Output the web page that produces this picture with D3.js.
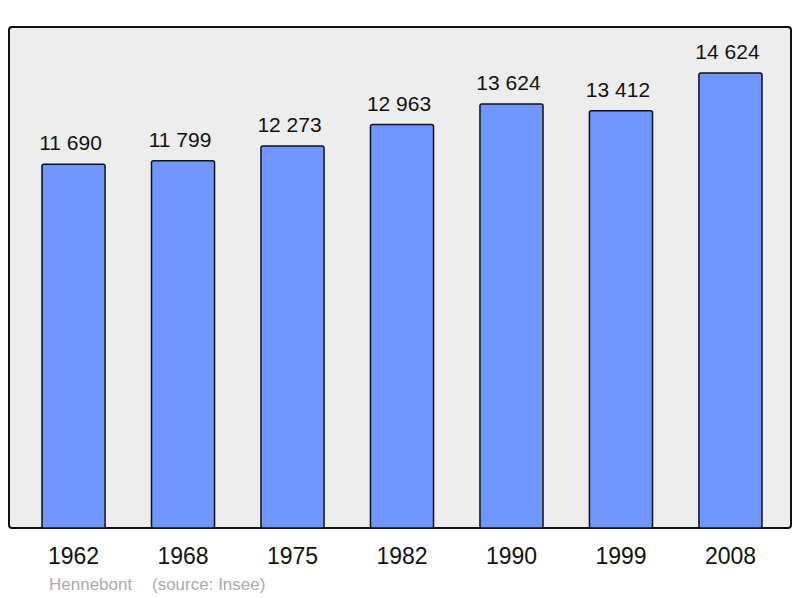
<!DOCTYPE html>
<html lang="fr">
<head>
<meta charset="UTF-8" />
<title>Hennebont population</title>
<script src="https://d3js.org/d3.v7.min.js"></script>
<style>
    body { margin: 0; background: #fff; }
    svg { display: block; font-family: "Liberation Sans", Arial, sans-serif; }
    .panel { fill: #ededed; stroke: #111; stroke-width: 2px; }
    .bar { fill: #7096ff; stroke: #111; stroke-width: 1.5px; }
    .val { font-size: 21px; fill: #111; text-anchor: middle; }
    .year { font-size: 23px; fill: #111; text-anchor: middle; }
    .foot { font-size: 17px; fill: #aaa; }
</style>
</head>
<body>
<svg width="800" height="598"></svg>
<script>
    const years = ["1962", "1968", "1975", "1982", "1990", "1999", "2008"];
    const population = [11690, 11799, 12273, 12963, 13624, 13412, 14624];
    const town = "Hennebont";
    const source = "(source: Insee)";

    const svg = d3.select("svg");
    const fmt = v => d3.format(",")(v).replace(",", " ");

    svg.append("rect").attr("class", "panel")
        .attr("x", 9).attr("y", 27).attr("width", 782).attr("height", 501).attr("rx", 3);

    const x = d3.scaleBand().domain(years).range([42, 762]).paddingInner(0.424).paddingOuter(0);
    const y = d3.scaleLinear().domain([0, 16100]).range([528, 27]);

    const g = svg.append("g");
    g.selectAll(".bar")
        .data(population)
        .join("rect")
        .attr("class", "bar")
        .attr("x", (d, i) => x(years[i]))
        .attr("y", d => y(d))
        .attr("width", x.bandwidth())
        .attr("height", d => y(0) - y(d))
        .attr("rx", 2);

    // value labels sit a touch left of the bar centre
    g.selectAll(".val")
        .data(population)
        .join("text")
        .attr("class", "val")
        .attr("x", (d, i) => x(years[i]) + x.bandwidth() / 2 - 3)
        .attr("y", d => y(d) - 14)
        .text(d => fmt(d));

    svg.selectAll(".year")
        .data(years)
        .join("text")
        .attr("class", "year")
        .attr("x", d => x(d) + x.bandwidth() / 2)
        .attr("y", 564)
        .text(d => d);

    svg.append("text").attr("class", "foot").attr("x", 49).attr("y", 590).text(town);
    svg.append("text").attr("class", "foot").attr("x", 152).attr("y", 590).text(source);
</script>
</body>
</html>
